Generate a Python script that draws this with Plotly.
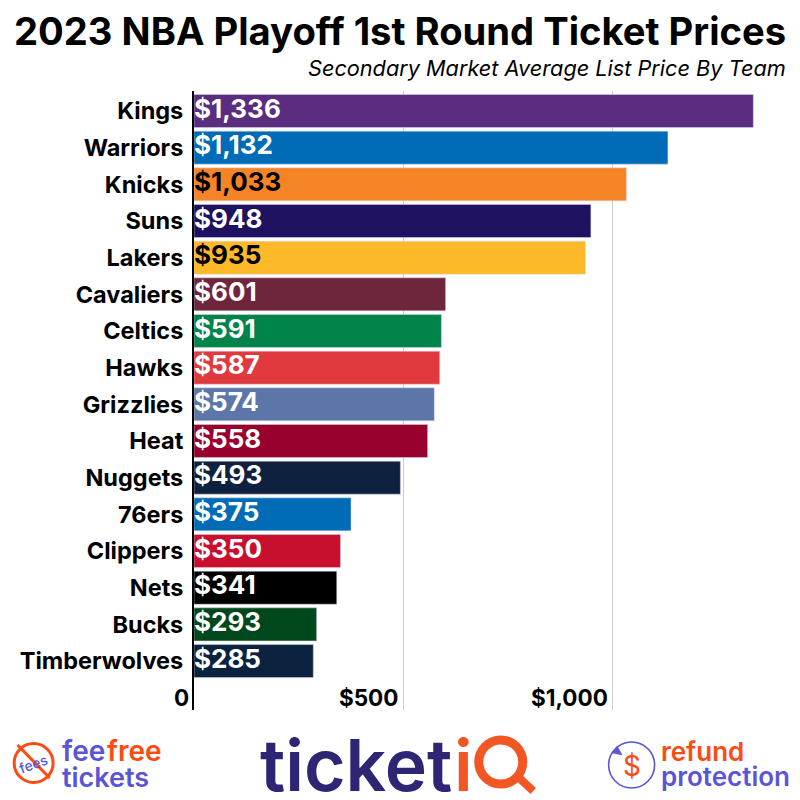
import plotly.graph_objects as go

teams = ["Kings","Warriors","Knicks","Suns","Lakers","Cavaliers","Celtics","Hawks","Grizzlies","Heat","Nuggets","76ers","Clippers","Nets","Bucks","Timberwolves"]
prices = [1336,1132,1033,948,935,601,591,587,574,558,493,375,350,341,293,285]
bar_colors = ["#5a2d81","#006bb6","#f58426","#1d1160","#fdb927","#6f263d","#00844a","#e03a3e","#5d76a9","#98002e","#0e2240","#006bb6","#c8102e","#000000","#00471b","#0c2340"]
label_colors = ["white","white","black","white","black"] + ["white"]*11
tick_values = [0,500,1000]
tick_labels = ["0","$500","$1,000"]
TITLE = "2023 NBA Playoff 1st Round Ticket Prices"
SUBTITLE = "Secondary Market Average List Price By Team"

L, R, T, B = 193.5, 10, 91, 90
W = H = 800
PW, PH = W-L-R, H-T-B
def px(x): return (x-L)/PW
def py(y): return 1-(y-T)/PH

NAVY="#2e2675"; ORANGE="#f25623"; BLUE="#5a55d8"; RED="#ff4a12"
FONT="Inter"

fig = go.Figure(go.Bar(
    x=prices, y=teams, orientation="h",
    marker=dict(color=bar_colors, line=dict(color="#d8d8e4", width=0.5)),
    width=0.9, hoverinfo="skip",
))
fig.add_trace(go.Scatter(
    x=[0]*len(teams), y=teams, mode="text",
    text=[f"${p:,}" for p in prices], textposition="middle right",
    textfont=dict(family=FONT, size=26, color=label_colors, weight=700),
    cliponaxis=False, hoverinfo="skip",
))

ann=[]
def text(x,y,s,size,color="black",anchor="left",weight=700,italic=False,angle=0,family=FONT):
    ann.append(dict(x=px(x),y=py(y),xref="paper",yref="paper",text=s,showarrow=False,xanchor=anchor,yanchor="middle",
        textangle=angle,font=dict(family=family,size=size,color=color,weight=weight,style="italic" if italic else "normal"),borderpad=0,borderwidth=0))

text(400,31,TITLE,38.2,anchor="center",weight=700)
text(786,68,SUBTITLE,21.7,anchor="right",weight=400,italic=True)

for v,lab in zip(tick_values,tick_labels):
    ann.append(dict(x=v,y=16,xref="x",yref="y",text=lab,showarrow=False,xanchor="right",yanchor="middle",xshift=-3,
        font=dict(family=FONT,size=22.5,color="black",weight=700)))

shapes=[]
def line(x0,y0,x1,y1,color,width):
    shapes.append(dict(type="line",xref="paper",yref="paper",x0=px(x0),y0=py(y0),x1=px(x1),y1=py(y1),line=dict(color=color,width=width,)))
def circle(cx,cy,r,color,width):
    shapes.append(dict(type="circle",xref="paper",yref="paper",x0=px(cx-r),x1=px(cx+r),y0=py(cy-r),y1=py(cy+r),line=dict(color=color,width=width)))
def poly(points,color):
    d="M"+" L".join(f"{px(x):.5f},{py(y):.5f}" for x,y in points)+" Z"
    shapes.append(dict(type="path",xref="paper",yref="paper",path=d,fillcolor=color,line=dict(color=color,width=0.5)))

# fee free tickets logo
circle(33,763,19.5,RED,3)
line(17,745,49,778,RED,3)
text(33,764,"fees",14,BLUE,anchor="center",weight=500,angle=-20)
text(61,751,"fee",28,BLUE,anchor="left",weight=600)
text(106,751,"free",28,RED,anchor="left",weight=600)
text(61,777,"tickets",27,BLUE,anchor="left",weight=600)

# ticketiQ logo
text(260,765,"ticket",71.5,NAVY,anchor="left",weight=600)
text(454,765,"i",71.5,ORANGE,anchor="left",weight=600)
circle(500.5,762,22,ORANGE,9)
line(518,777,533,791,ORANGE,8)

# refund protection logo
circle(631.5,765,23,BLUE,1.6)
poly([(612,753),(622,755),(617,746)],BLUE)
text(632,766,"$",28,RED,anchor="center",weight=400)
text(661,751,"refund",26,RED,anchor="left",weight=600)
text(661,776,"protection",26,BLUE,anchor="left",weight=600)

fig.update_layout(
    width=W,height=H,autosize=False,margin=dict(l=L,r=R,t=T,b=B),
    paper_bgcolor="white",plot_bgcolor="white",showlegend=False,
    bargap=0.1,annotations=ann,shapes=shapes,
    xaxis=dict(range=[0,(W-R-L)/0.419],tickvals=[500,1000],showticklabels=False,ticks="",
        showgrid=True,gridcolor="#cccccc",gridwidth=1,zeroline=False,showline=False),
    yaxis=dict(type="category",categoryorder="array",categoryarray=teams,range=[16.335,-0.545],
        ticks="",ticklabelstandoff=4,tickfont=dict(family=FONT,size=23.5,color="black",weight=700),
        showline=True,linecolor="black",linewidth=2,showgrid=False,zeroline=False),
)
fig.write_html("out.html", post_script="document.body.style.margin='0';", config=dict(displayModeBar=False))
